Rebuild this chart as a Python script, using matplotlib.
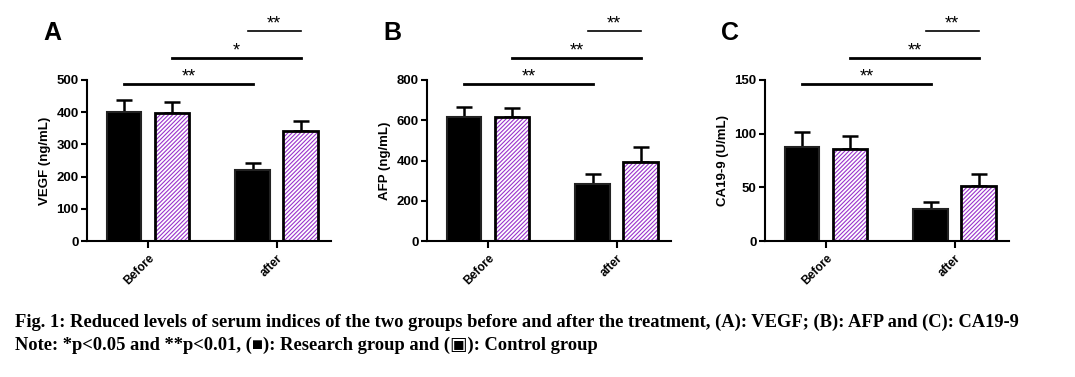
import numpy as np
import matplotlib
matplotlib.use('Agg')
from matplotlib import pyplot as plt
from matplotlib import transforms

plt.rcParams['font.family'] = ['Liberation Sans', 'DejaVu Sans']
plt.rcParams['font.weight'] = 'bold'
plt.rcParams['hatch.linewidth'] = 0.8

groups = ['Before', 'after']
panels = ['A', 'B', 'C']
ylabels = ['VEGF (ng/mL)', 'AFP (ng/mL)', 'CA19-9 (U/mL)']
ymax = [500, 800, 150]
ystep = [100, 200, 50]

research_mean = [[400, 222], [616, 283], [88, 29.5]]
research_err = [[38, 20], [50, 50], [14, 7]]
control_mean = [[398, 341], [618, 395], [85.5, 51]]
control_err = [[34, 32], [43, 72], [12.5, 11]]

sig_labels = [['**', '*', '**'], ['**', '**', '**'], ['**', '**', '**']]

caption1 = ('Fig. 1: Reduced levels of serum indices of the two groups before and after '
            'the treatment, (A): VEGF; (B): AFP and (C): CA19-9')
caption2 = 'Note: *p<0.05 and **p<0.01, (\u25a0): Research group and (\u25a3): Control group'

fig = plt.figure(figsize=(10.75, 3.77), dpi=100)

lefts = [87, 427, 765]
off = 0.186
w = 0.27
x = np.arange(len(groups))

for i in range(3):
    ax = fig.add_axes([lefts[i] / 1075, 1 - 241 / 377, 244 / 1075, 161 / 377])
    ax.bar(x - off, research_mean[i], width=w, color='black', edgecolor='#222222',
           linewidth=1.5, zorder=2)
    # purple hatch first, black outline on top
    ax.bar(x + off, control_mean[i], width=w, color='white', edgecolor='#9933cc',
           hatch='////////', linewidth=0, zorder=2)
    ax.bar(x + off, control_mean[i], width=w, fill=False, edgecolor='black',
           linewidth=2, zorder=3)
    ax.errorbar(x - off, research_mean[i], yerr=[np.zeros(2), research_err[i]],
                fmt='none', ecolor='black', elinewidth=1.8, capsize=6, capthick=1.8, zorder=1)
    ax.errorbar(x + off, control_mean[i], yerr=[np.zeros(2), control_err[i]],
                fmt='none', ecolor='black', elinewidth=1.8, capsize=6, capthick=1.8, zorder=1)

    ax.set_xlim(-0.473, 1.42)
    ax.set_ylim(0, ymax[i])
    ax.set_yticks(np.arange(0, ymax[i] + 1, ystep[i]))
    ax.set_xticks(x)
    ax.set_xticklabels(groups, rotation=45, ha='right', rotation_mode='anchor',
                       fontsize=8.5, fontweight='bold')
    for lab in ax.get_yticklabels():
        lab.set_fontsize(9.5)
        lab.set_fontweight('bold')
    ax.set_ylabel(ylabels[i], fontsize=9.5, fontweight='bold', labelpad=4)
    ax.spines['top'].set_visible(False)
    ax.spines['right'].set_visible(False)
    ax.spines['left'].set_linewidth(1.5)
    ax.spines['bottom'].set_linewidth(1.5)
    ax.tick_params(axis='y', length=4, width=1.5, pad=2)
    ax.tick_params(axis='x', length=5, width=1.5, pad=3)

    trans = transforms.blended_transform_factory(ax.transData, ax.transAxes)
    brackets = [(-off, 1 - off, 0.975, 2.0), (off, 1 + off, 1.137, 2.0),
                (1 - off - 0.04, 1 + off, 1.304, 1.2)]
    for (x0, x1, yy, lw), lab in zip(brackets, sig_labels[i]):
        ax.plot([x0, x1], [yy, yy], color='black', lw=lw, transform=trans, clip_on=False)
        ax.text((x0 + x1) / 2, yy - 0.01, lab, transform=trans, ha='center', va='bottom',
                fontsize=13, fontweight='normal')

    fig.text((lefts[i] - 44) / 1075, 1 - 33 / 377, panels[i], fontsize=18,
             fontweight='bold', ha='left', va='center')

fig.text(15 / 1075, 1 - 322 / 377, caption1, fontsize=13.3, fontweight='bold',
         family=['Liberation Serif', 'DejaVu Sans'], va='center', ha='left')
fig.text(15 / 1075, 1 - 345 / 377, caption2, fontsize=13.3, fontweight='bold',
         family=['Liberation Serif', 'DejaVu Sans'], va='center', ha='left')

fig.savefig('out.png', dpi=100)
